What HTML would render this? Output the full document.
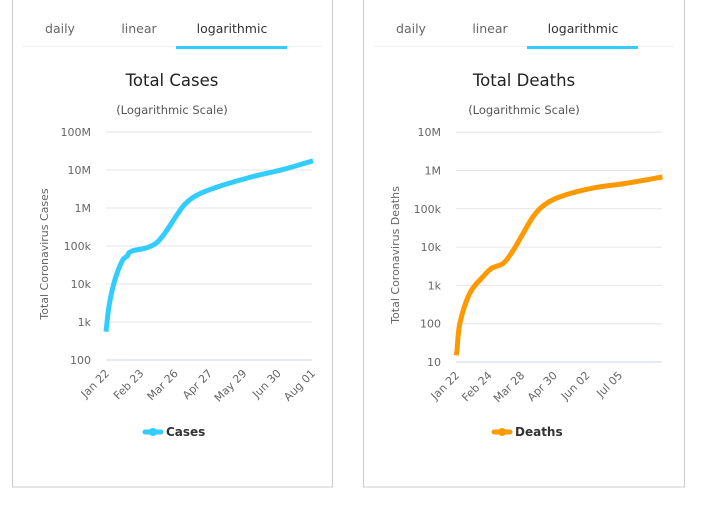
<!DOCTYPE html>
<html><head><meta charset="utf-8"><style>
html,body{margin:0;padding:0;background:#fff;width:705px;height:505px;overflow:hidden}
svg{font-family:"DejaVu Sans","Liberation Sans",sans-serif}
</style></head><body>
<svg id="s" width="705" height="505" xmlns="http://www.w3.org/2000/svg">
  <rect x="12.5" y="-5" width="320" height="492" fill="#fff" stroke="#ccc"/>
  <rect x="363.5" y="-5" width="321" height="492" fill="#fff" stroke="#ccc"/>
  <g id="cases"></g>
  <g id="deaths"></g>
</svg>
<script>
const casesDays=[0,3,8,15,20,21,25,38,47,55,66,74,85,104,135,166,193];
const casesVals=[555,2800,12000,40000,55000,64000,75000,90000,120000,220000,650000,1300000,2200000,3600000,6500000,10500000,17500000];
const casesTickLabels=["Jan 22","Feb 23","Mar 26","Apr 27","May 29","Jun 30","Aug 01"];
const casesTickDays=[0,32,64,96,128,160,192];
const casesYLabels=["100","1k","10k","100k","1M","10M","100M"];
const deathsDays=[0,1,4,14,27,36,48,58,68,78,88,105,139,173,209];
const deathsVals=[15,20,105,630,1650,2800,3800,8300,23000,62000,118000,205000,350000,465000,680000];
const deathsTickLabels=["Jan 22","Feb 24","Mar 28","Apr 30","Jun 02","Jul 05"];
const deathsTickDays=[0,33,66,99,132,165];
const deathsYLabels=["10","100","1k","10k","100k","1M","10M"];
const NS="http://www.w3.org/2000/svg";
function mk(p,t,a,txt){const e=document.createElementNS(NS,t);for(const k in a)e.setAttribute(k,a[k]);if(txt!==undefined)e.textContent=txt;p.appendChild(e);return e;}
function draw(g,o){
  const xs=d=>o.x0+d*o.pxDay;
  const ys=v=>o.yBottom-(Math.log10(v)-o.minExp)*o.dec;
  const tabs=[["daily",o.ox+48],["linear",o.ox+127],["logarithmic",o.ox+220]];
  tabs.forEach((t,i)=>{const e=mk(g,"text",{x:t[1],y:33,"font-size":12.5,fill:i==2?"#333":"#666","text-anchor":"middle"},t[0]);
    
    });
  let l=mk(g,"line",{x1:o.ox+11,x2:o.ox+310,y1:46.5,y2:46.5,stroke:"#eee"});
  
  
  l=mk(g,"rect",{x:o.ox+164,y:46,width:111,height:3,fill:"#33ccff"});
  
  
  let t=mk(g,"text",{x:o.cx,y:86,"font-size":16.5,fill:"#222","text-anchor":"middle"},o.title);
  
  
  t=mk(g,"text",{x:o.cx,y:114,"font-size":11.5,fill:"#555","text-anchor":"middle"},"(Logarithmic Scale)");
  
  
  o.yl.forEach((lab,i)=>{const v=Math.pow(10,o.minExp+i);const y=ys(v);
    const gl=mk(g,"line",{x1:o.x0,x2:o.x0+206,y1:y,y2:y,stroke:i==0?"#ccd6eb":"#e6e6e6"});
    
    
    const tl=mk(g,"text",{x:o.x0-15,y:y+4,"font-size":11,fill:"#666","text-anchor":"end"},lab);
    
    });
  const yt=mk(g,"text",{transform:`translate(${o.ox+36},${(o.yBottom+132)/2+8}) rotate(-90)`,"font-size":11,fill:"#666","text-anchor":"middle"},o.ytitle);
  
  
  o.td.forEach((d,i)=>{const x=xs(d);
    const tl=mk(g,"text",{transform:`translate(${x+4},${o.yBottom+14}) rotate(-45)`,"font-size":11,fill:"#666","text-anchor":"end"},o.tl[i]);
    
    });
  const pts=o.days.map((d,i)=>[xs(d),ys(o.vals[i])]);
  let p="M"+pts[0][0]+","+pts[0][1];
  for(let i=0;i<pts.length-1;i++){const p0=pts[Math.max(0,i-1)],p1=pts[i],p2=pts[i+1],p3=pts[Math.min(pts.length-1,i+2)];
    p+=` C${p1[0]+(p2[0]-p0[0])/6},${p1[1]+(p2[1]-p0[1])/6} ${p2[0]-(p3[0]-p1[0])/6},${p2[1]-(p3[1]-p1[1])/6} ${p2[0]},${p2[1]}`;}
  const ln=mk(g,"path",{d:p,fill:"none",stroke:o.color,"stroke-width":5,"stroke-linejoin":"round"});
  
  
  const lg=mk(g,"g",{});
  
  
  mk(lg,"line",{x1:o.lx,x2:o.lx+16,y1:432,y2:432,stroke:o.color,"stroke-width":5,"stroke-linecap":"round"});
  mk(lg,"circle",{cx:o.lx+8,cy:432,r:4,fill:o.color});
  mk(lg,"text",{x:o.lx+21,y:436,"font-size":12,"font-weight":"bold",fill:"#333"},o.name);
}
draw(document.getElementById("cases"),{ox:12,cx:172,x0:106,pxDay:206/192,yBottom:360,minExp:2,dec:38,title:"Total Cases",ytitle:"Total Coronavirus Cases",yl:casesYLabels,td:casesTickDays,tl:casesTickLabels,days:casesDays,vals:casesVals,color:"#33ccff",lx:145,name:"Cases"});
draw(document.getElementById("deaths"),{ox:363,cx:524,x0:456,pxDay:0.988,yBottom:362,minExp:1,dec:38.3,title:"Total Deaths",ytitle:"Total Coronavirus Deaths",yl:deathsYLabels,td:deathsTickDays,tl:deathsTickLabels,days:deathsDays,vals:deathsVals,color:"#ff9900",lx:494,name:"Deaths"});
</script>
</body></html>
